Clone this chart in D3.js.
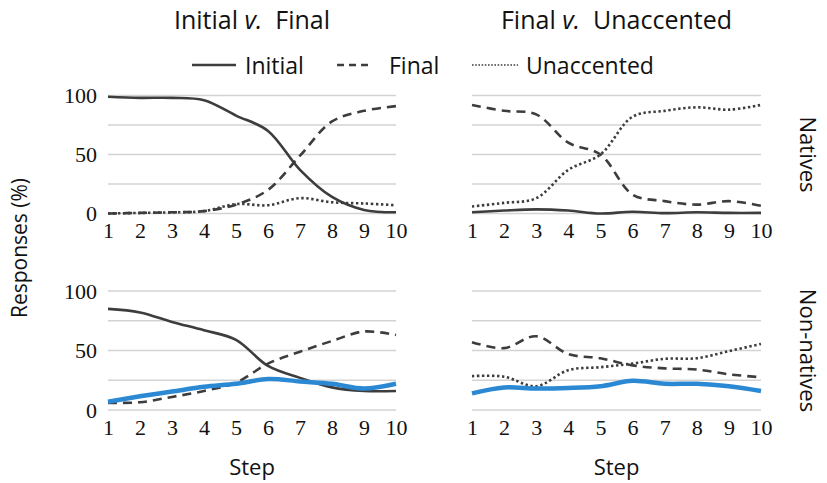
<!DOCTYPE html>
<html>
<head>
<meta charset="utf-8">
<script src="https://cdn.jsdelivr.net/npm/d3@7"></script>
<style>
  html, body { margin: 0; padding: 0; background: #fff; }
  svg { display: block; }
</style>
</head>
<body>
<svg id="chart" width="827" height="483"></svg>
<script>
// ---- data ----
const steps = [1, 2, 3, 4, 5, 6, 7, 8, 9, 10];
const yTicks = [0, 50, 100];
const gridTicks = [0, 25, 50, 75, 100];

const columnTitles = [["Initial ", "v.", "  Final"], ["Final ", "v.", "  Unaccented"]];
const rowLabels = ["Natives", "Non-natives"];
const legendLabels = ["Initial", "Final", "Unaccented"];

// Natives, Initial v. Final
const natIVF_initial = [99, 98, 98, 96, 83, 70, 37, 14, 3, 1];
const natIVF_final   = [0, 0.5, 1, 2, 7.5, 20, 49, 78, 87, 91];
const natIVF_unacc   = [0, 0.5, 1, 2, 8, 7, 13, 9.5, 8.5, 7];
// Natives, Final v. Unaccented
const natFVU_initial = [1, 2.5, 3.5, 2.5, 0, 1.5, 0.3, 1, 0.5, 0.5];
const natFVU_final   = [92, 87, 84, 60, 50, 16, 10.5, 7.5, 10.5, 6.5];
const natFVU_unacc   = [6, 9, 13, 37, 50, 82, 87, 90, 88, 92];
// Non-natives, Initial v. Final
const nonIVF_initial = [85, 82, 74, 67, 59, 37, 27, 19, 16, 16];
const nonIVF_final   = [6, 6.5, 11, 16, 23, 39, 49, 58, 66, 63];
const nonIVF_blue    = [7, 11.5, 15.5, 19.5, 22, 26, 24, 22, 18, 22];
// Non-natives, Final v. Unaccented
const nonFVU_final   = [57, 52, 62, 47, 43.5, 37.5, 35, 34, 30, 27.5];
const nonFVU_unacc   = [28.5, 28, 20, 33.5, 36, 39, 43, 43.5, 49.5, 55.5];
const nonFVU_blue    = [14, 19, 18, 18.5, 20, 24.5, 22, 22, 20, 16];

// ---- styles ----
const dark = "#3d3d3d";
const blue = "#2b88d3";
const styles = {
  initial: { stroke: dark, width: 2.6, dash: null },
  final:   { stroke: dark, width: 2.6, dash: "9,6" },
  unacc:   { stroke: dark, width: 2.6, dash: "2.4,2.6" },
  blue:    { stroke: blue, width: 4.5, dash: null }
};

const panels = [
  { col: 0, row: 0, series: [["unacc", natIVF_unacc], ["final", natIVF_final], ["initial", natIVF_initial]] },
  { col: 1, row: 0, series: [["initial", natFVU_initial], ["unacc", natFVU_unacc], ["final", natFVU_final]] },
  { col: 0, row: 1, series: [["initial", nonIVF_initial], ["final", nonIVF_final], ["blue", nonIVF_blue]] },
  { col: 1, row: 1, series: [["unacc", nonFVU_unacc], ["final", nonFVU_final], ["blue", nonFVU_blue]] }
];

const colX = [[108, 396], [472, 761]];
const rowY = [[213.5, 95.5], [410, 291]];

const sans = "'Open Sans', sans-serif";
const serif = "'Liberation Serif', 'DejaVu Serif', serif";

const svg = d3.select("#chart");

panels.forEach(p => {
  const x = d3.scaleLinear().domain([1, 10]).range(colX[p.col]);
  const y = d3.scaleLinear().domain([0, 100]).range(rowY[p.row]);
  const g = svg.append("g");

  // gridlines
  g.selectAll("line.grid").data(gridTicks).enter().append("line")
    .attr("x1", x(1)).attr("x2", x(10))
    .attr("y1", d => y(d)).attr("y2", d => y(d))
    .attr("stroke", "#d3d3d3").attr("stroke-width", 1.3);

  // x tick labels
  const xAxis = d3.axisBottom(x).tickValues(steps).tickSize(0).tickPadding(0);
  const xa = g.append("g").attr("transform", `translate(0,${y(0) + 24.5})`).call(xAxis);
  xa.select(".domain").remove();
  xa.selectAll("text").attr("dy", 0).attr("y", 0)
    .attr("font-family", serif).attr("font-size", 22).attr("fill", "#111");

  // y tick labels (left column)
  if (p.col === 0) {
    const yAxis = d3.axisLeft(y).tickValues(yTicks).tickSize(0).tickPadding(0);
    const ya = g.append("g").attr("transform", `translate(${x(1) - 11},0)`).call(yAxis);
    ya.select(".domain").remove();
    ya.selectAll("text").attr("font-family", serif).attr("font-size", 22).attr("fill", "#111")
      .attr("dy", "0.33em");
  }

  // lines
  const line = d3.line().x((d, i) => x(steps[i])).y(d => y(d)).curve(d3.curveCatmullRom.alpha(0.5));
  p.series.forEach(([key, vals]) => {
    const s = styles[key];
    g.append("path").datum(vals)
      .attr("d", line)
      .attr("fill", "none")
      .attr("stroke", s.stroke)
      .attr("stroke-width", s.width)
      .attr("stroke-dasharray", s.dash)
      .attr("stroke-linejoin", "round");
  });
});

// column titles
columnTitles.forEach((t, i) => {
  const cx = (colX[i][0] + colX[i][1]) / 2;
  const txt = svg.append("text").attr("x", cx).attr("y", 29)
    .attr("text-anchor", "middle").attr("font-family", sans).attr("font-size", 25)
    .attr("fill", "#111").attr("xml:space", "preserve").style("white-space", "pre");
  txt.append("tspan").text(t[0]);
  txt.append("tspan").attr("font-style", "italic").text(t[1]);
  txt.append("tspan").text(t[2]);
});

// legend
const legendItems = [
  { key: "initial", x1: 192, x2: 236, tx: 245, label: legendLabels[0], dash: null },
  { key: "final", x1: 337, x2: 370, tx: 389, label: legendLabels[1], dash: "7,5" },
  { key: "unacc", x1: 472, x2: 518, tx: 526, label: legendLabels[2], dash: "1.6,1.6" }
];
legendItems.forEach(d => {
  svg.append("line").attr("x1", d.x1).attr("x2", d.x2).attr("y1", 65).attr("y2", 65)
    .attr("stroke", dark).attr("stroke-width", d.key === "unacc" ? 1.6 : 2.4)
    .attr("stroke-dasharray", d.dash);
  svg.append("text").attr("x", d.tx).attr("y", 74).attr("font-family", sans)
    .attr("font-size", 23).attr("fill", "#111").text(d.label);
});

// row labels
rowLabels.forEach((lab, r) => {
  const cy = (rowY[r][0] + rowY[r][1]) / 2;
  svg.append("text").attr("transform", `translate(800,${cy}) rotate(90)`)
    .attr("text-anchor", "middle").attr("font-family", sans).attr("font-size", 22)
    .attr("fill", "#111").text(lab);
});

// y axis title
svg.append("text").attr("transform", `translate(27,248) rotate(-90)`)
  .attr("text-anchor", "middle").attr("font-family", sans).attr("font-size", 21)
  .attr("fill", "#111").text("Responses (%)");

// x axis titles
colX.forEach(c => {
  svg.append("text").attr("x", (c[0] + c[1]) / 2).attr("y", 475)
    .attr("text-anchor", "middle").attr("font-family", sans).attr("font-size", 22)
    .attr("fill", "#111").text("Step");
});
</script>
</body>
</html>
